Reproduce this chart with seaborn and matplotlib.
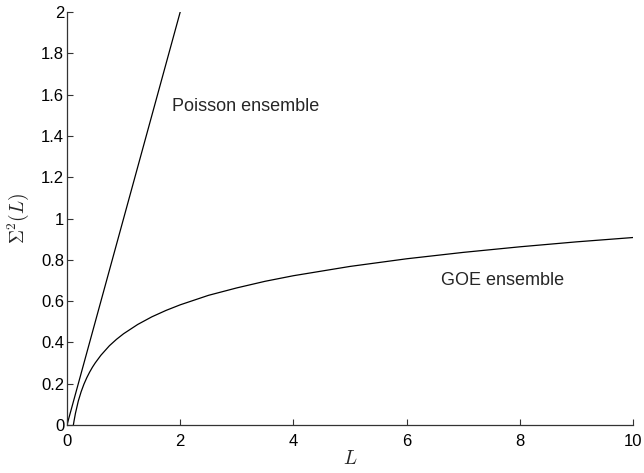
import matplotlib
matplotlib.use("Agg")
import matplotlib.pyplot as plt
import seaborn as sns
import pandas as pd

# Data
poisson_L = [0.0, 2.0]
poisson_S = [0.0, 2.0]

goe_L = [0.113, 0.125, 0.15, 0.2, 0.25, 0.3, 0.35, 0.4, 0.45, 0.5, 0.6, 0.75,
         0.875, 1.0, 1.25, 1.5, 1.75, 2.0, 2.5, 3.0, 3.5, 4.0, 5.0, 6.0, 7.0,
         8.0, 9.0, 10.0]
goe_S = [0.0, 0.020, 0.057, 0.116, 0.161, 0.198, 0.229, 0.256, 0.280, 0.301,
         0.338, 0.384, 0.415, 0.442, 0.487, 0.524, 0.555, 0.582, 0.628, 0.664,
         0.696, 0.723, 0.768, 0.805, 0.836, 0.863, 0.887, 0.908]

x_ticks = [0, 2, 4, 6, 8, 10]
y_ticks = [0, 0.2, 0.4, 0.6, 0.8, 1, 1.2, 1.4, 1.6, 1.8, 2]
y_tick_labels = ["0", "0.2", "0.4", "0.6", "0.8", "1", "1.2", "1.4", "1.6", "1.8", "2"]

sns.set_style("ticks")
plt.rcParams["font.family"] = ["Liberation Sans", "DejaVu Sans"]
plt.rcParams["mathtext.fontset"] = "cm"

fig = plt.figure(figsize=(6.44, 4.73), dpi=100)
ax = fig.add_axes([0.104, 0.1015, 0.879, 0.873])

df_p = pd.DataFrame({"L": poisson_L, "S": poisson_S})
df_g = pd.DataFrame({"L": goe_L, "S": goe_S})
sns.lineplot(data=df_p, x="L", y="S", ax=ax, color="black", linewidth=0.9,
             estimator=None, sort=False)
sns.lineplot(data=df_g, x="L", y="S", ax=ax, color="black", linewidth=0.9,
             estimator=None, sort=False)

ax.set_xlim(0, 10)
ax.set_ylim(0, 2)
ax.set_xticks(x_ticks)
ax.set_xticklabels([str(t) for t in x_ticks])
ax.set_yticks(y_ticks)
ax.set_yticklabels(y_tick_labels)
ax.tick_params(direction="in", length=4, width=0.8, labelsize=12,
               colors="#333333", labelcolor="black")
ax.tick_params(axis="y", pad=2)
ax.tick_params(axis="x", pad=6.3)
sns.despine(ax=ax)
for s in ["left", "bottom"]:
    ax.spines[s].set_linewidth(0.9)
    ax.spines[s].set_color("#333333")

ax.set_xlabel("$L$", fontsize=14, labelpad=1)
ax.set_ylabel(r"$\Sigma^2(L)$", fontsize=14, labelpad=7)

ax.text(1.855, 1.545, "Poisson ensemble", fontsize=13, va="center", ha="left")
ax.text(6.61, 0.702, "GOE ensemble", fontsize=13, va="center", ha="left")

fig.savefig("out.png", dpi=100)
